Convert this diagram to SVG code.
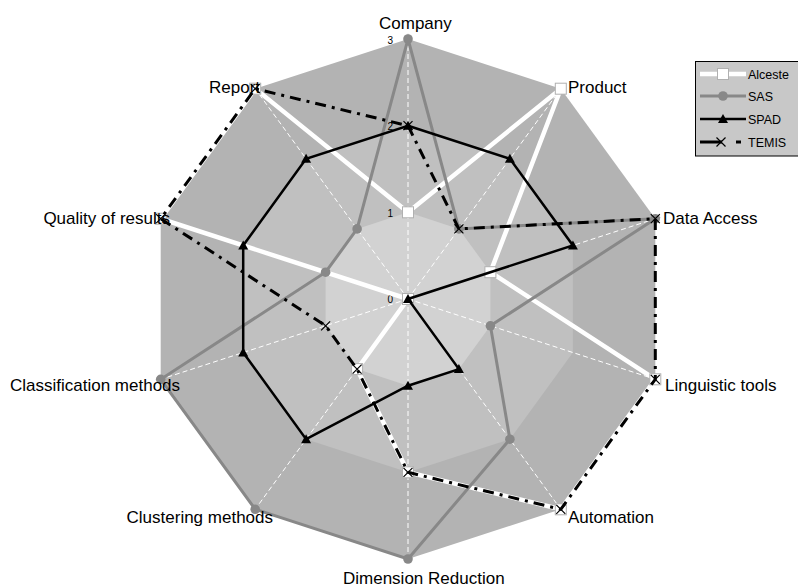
<svg xmlns="http://www.w3.org/2000/svg" width="798" height="588" viewBox="0 0 798 588">
<style>
text{font-family:"Liberation Sans",Arial,sans-serif;fill:#000}
.lab{font-size:17px}
.tick{font-size:10px;text-anchor:end}
.leg{font-size:12.5px}
.spoke{stroke:#fff;stroke-width:1;stroke-dasharray:5 3;fill:none}
.alc{fill:none;stroke:#fff;stroke-width:4.5;stroke-linejoin:miter}
.sas{fill:none;stroke:#888;stroke-width:3}
.spad{fill:none;stroke:#000;stroke-width:2.5}
.temis{fill:none;stroke:#000;stroke-width:3;stroke-dasharray:11 6 3 6}
</style>
<defs>
<marker id="mSq" markerUnits="userSpaceOnUse" markerWidth="14" markerHeight="14" refX="7" refY="7" overflow="visible"><rect x="1.5" y="1.5" width="11" height="11" fill="#fff" stroke="#b0b0b0" stroke-width="1"/></marker>
<marker id="mCi" markerUnits="userSpaceOnUse" markerWidth="12" markerHeight="12" refX="6" refY="6" overflow="visible"><circle cx="6" cy="6" r="4.8" fill="#888"/></marker>
<marker id="mTr" markerUnits="userSpaceOnUse" markerWidth="12" markerHeight="12" refX="6" refY="6" overflow="visible"><path d="M6 1 L11 10 L1 10 Z" fill="#000"/></marker>
<marker id="mX" markerUnits="userSpaceOnUse" markerWidth="12" markerHeight="12" refX="6" refY="6" overflow="visible"><path d="M1.5 1.5 L10.5 10.5 M10.5 1.5 L1.5 10.5" stroke="#000" stroke-width="1.2" fill="none"/></marker>
</defs>
<g id="grid">
<polygon points="408,39 560.8,88.7 655.3,218.7 655.3,379.3 560.8,509.3 408,559 255.2,509.3 160.7,379.3 160.7,218.7 255.2,88.7" fill="#b3b3b3"/>
<polygon points="408,125.7 509.9,158.8 572.9,245.4 572.9,352.6 509.9,439.2 408,472.3 306.1,439.2 243.2,352.6 243.2,245.4 306.1,158.8" fill="#c0c0c0"/>
<polygon points="408,212.3 458.9,228.9 490.4,272.2 490.4,325.8 458.9,369.1 408,385.7 357.1,369.1 325.6,325.8 325.6,272.2 357.1,228.9" fill="#d2d2d2"/>
<path class="spoke" d="M408 299 L408 39 M408 299 L560.8 88.7 M408 299 L655.3 218.7 M408 299 L655.3 379.3 M408 299 L560.8 509.3 M408 299 L408 559 M408 299 L255.2 509.3 M408 299 L160.7 379.3 M408 299 L160.7 218.7 M408 299 L255.2 88.7"/>
</g>
<g id="ticks">
<text class="tick" x="393" y="43.5">3</text>
<text class="tick" x="393" y="130">2</text>
<text class="tick" x="393" y="216.5">1</text>
<text class="tick" x="393" y="302.5">0</text>
</g>
<g id="connectors">
<polygon id="alceste" class="alc" marker-start="url(#mSq)" marker-mid="url(#mSq)" points="408,212.3 560.8,88.7 490.4,272.2 655.3,379.3 560.8,509.3 408,472.3 357.1,369.1 408,299 160.7,218.7 255.2,88.7"/>
<polygon id="sas" class="sas" marker-start="url(#mCi)" marker-mid="url(#mCi)" points="408,39 458.9,228.9 655.3,218.7 490.4,325.8 509.9,439.2 408,559 255.2,509.3 160.7,379.3 325.6,272.2 357.1,228.9"/>
<polygon id="spad" class="spad" marker-start="url(#mTr)" marker-mid="url(#mTr)" points="408,125.7 509.9,158.8 572.9,245.4 408,299 458.9,369.1 408,385.7 306.1,439.2 243.2,352.6 243.2,245.4 306.1,158.8"/>
<polygon id="temis" class="temis" marker-start="url(#mX)" marker-mid="url(#mX)" points="408,125.7 458.9,228.9 655.3,218.7 655.3,379.3 560.8,509.3 408,472.3 357.1,369.1 325.6,325.8 160.7,218.7 255.2,88.7"/>
</g>
<g id="n-company"><text class="lab" x="379" y="28.5">Company</text></g>
<g id="n-product"><text class="lab" x="568" y="93">Product</text></g>
<g id="n-data-access"><text class="lab" x="663" y="224">Data Access</text></g>
<g id="n-linguistic"><text class="lab" x="665" y="390.5">Linguistic tools</text></g>
<g id="n-automation"><text class="lab" x="568" y="523">Automation</text></g>
<g id="n-dimension"><text class="lab" x="343" y="584">Dimension Reduction</text></g>
<g id="n-clustering"><text class="lab" x="273" y="523" text-anchor="end">Clustering methods</text></g>
<g id="n-classification"><text class="lab" x="10" y="390.5">Classification methods</text></g>
<g id="n-quality"><text class="lab" x="170" y="223.5" text-anchor="end">Quality of results</text></g>
<g id="n-report"><text class="lab" x="209" y="93">Report</text></g>
<g id="legend">
<rect x="695.5" y="61.5" width="110" height="94.5" fill="#c8c8c8" stroke="#000" stroke-width="1"/>
<line x1="700" y1="74" x2="746" y2="74" stroke="#fff" stroke-width="4.5"/>
<rect x="717.5" y="68.5" width="11" height="11" fill="#fff" stroke="#b0b0b0"/>
<line x1="700" y1="96" x2="746" y2="96" stroke="#888" stroke-width="3"/>
<circle cx="723" cy="96" r="4.8" fill="#888"/>
<line x1="700" y1="119" x2="746" y2="119" stroke="#000" stroke-width="2.5"/>
<path d="M723 114 L728 123 L718 123 Z" fill="#000"/>
<line x1="700" y1="142" x2="722" y2="142" stroke="#000" stroke-width="3"/>
<line x1="736" y1="142" x2="741" y2="142" stroke="#000" stroke-width="3"/>
<path d="M716.5 137.5 L725.5 146.5 M725.5 137.5 L716.5 146.5" stroke="#000" stroke-width="1.2"/>
<text class="leg" x="748" y="78.5">Alceste</text>
<text class="leg" x="748" y="100.5">SAS</text>
<text class="leg" x="748" y="123.5">SPAD</text>
<text class="leg" x="748" y="146.5">TEMIS</text>
</g>
</svg>
